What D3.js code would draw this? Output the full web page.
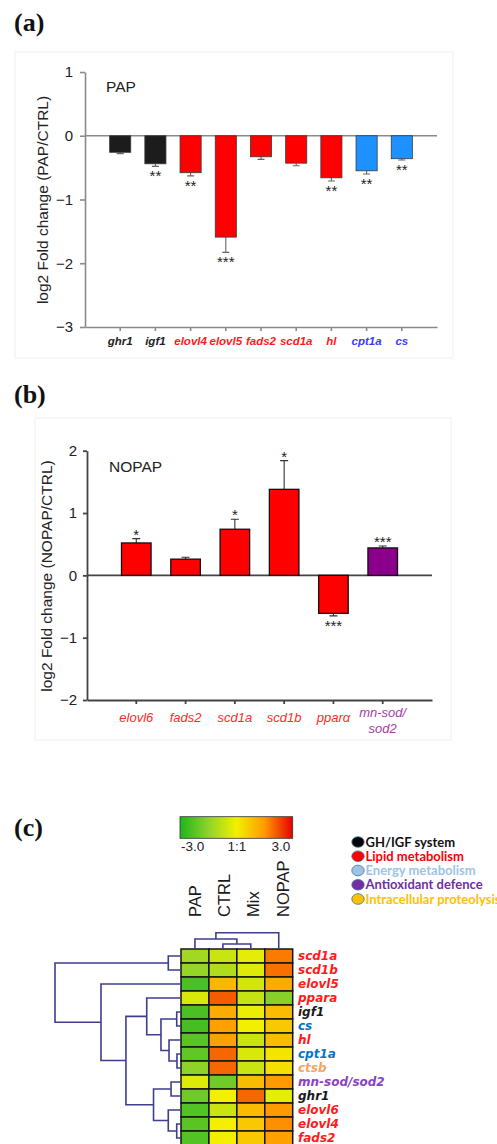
<!DOCTYPE html>
<html>
<head>
<meta charset="utf-8">
<script src="https://cdn.jsdelivr.net/npm/d3@7"></script>
<style>
  body { margin: 0; background: #fff; }
  svg { display: block; }
</style>
</head>
<body>
<div id="fig"></div>
<script>

// ----- panel (a): PAP vs CTRL -----
var genesA = ["ghr1", "igf1", "elovl4", "elovl5", "fads2", "scd1a", "hl", "cpt1a", "cs"];
var groupsA = ["gh", "gh", "lipid", "lipid", "lipid", "lipid", "lipid", "energy", "energy"];
var valuesA = [-0.26, -0.44, -0.58, -1.59, -0.33, -0.43, -0.66, -0.55, -0.36];
var errorsA = [0.02, 0.04, 0.05, 0.24, 0.04, 0.04, 0.05, 0.05, 0.02];
var signifA = ["", "**", "**", "***", "", "", "**", "**", "**"];
var ticksA = [1, 0, -1, -2, -3];

// ----- panel (b): NOPAP vs CTRL -----
var genesB = ["elovl6", "fads2", "scd1a", "scd1b", "ppar\u03b1", "mn-sod/sod2"];
var groupsB = ["lipid", "lipid", "lipid", "lipid", "lipid", "antiox"];
var valuesB = [0.52, 0.26, 0.74, 1.38, -0.61, 0.44];
var errorsB = [0.07, 0.03, 0.16, 0.46, 0.04, 0.03];
var signifB = ["*", "", "*", "*", "***", "***"];
var ticksB = [2, 1, 0, -1, -2];

// ----- panel (c): heatmap -----
var hmColumns = ["PAP", "CTRL", "Mix", "NOPAP"];
var hmRows = ["scd1a", "scd1b", "elovl5", "ppara", "igf1", "cs", "hl", "cpt1a", "ctsb",
              "mn-sod/sod2", "ghr1", "elovl6", "elovl4", "fads2"];
var hmRowGroups = ["lipid", "lipid", "lipid", "lipid", "gh", "energy", "lipid", "energy", "proteo",
                   "antiox", "gh", "lipid", "lipid", "lipid"];
var hmValues = [
    [-1.2, -0.6, -0.2, 1.8],
    [-1.4, -1.0, -0.3, 1.9],
    [-2.4, 1.0, -0.5, 1.2],
    [-0.4, 2.1, -0.7, -1.6],
    [-2.4, 1.2, -0.1, 0.9],
    [-2.5, 1.4, 0.0, 0.7],
    [-2.2, 1.4, -0.6, 0.9],
    [-2.1, 2.0, -0.4, 0.2],
    [-1.5, 2.0, -0.6, 0.3],
    [-0.3, -1.9, 0.9, 1.5],
    [-1.9, 0.0, 2.0, -0.2],
    [-2.3, -0.6, 0.9, 1.5],
    [-2.2, 0.0, 0.7, 1.6],
    [-2.3, 0.0, 0.7, 1.4]
];
// linkage: [left, right, height]; a number refers to an earlier merge
var rowLinkage = [
    ["scd1a", "scd1b", 0.101],      // 0
    ["igf1", "cs", 0.034],          // 1
    ["cpt1a", "ctsb", 0.032],       // 2
    ["hl", 2, 0.095],               // 3
    [1, 3, 0.159],                  // 4
    ["ppara", 4, 0.272],            // 5
    ["mn-sod/sod2", "ghr1", 0.079], // 6
    ["elovl4", "fads2", 0.034],     // 7
    ["elovl6", 7, 0.101],           // 8
    [6, 8, 0.218],                  // 9
    [5, 9, 0.437],                  // 10
    ["elovl5", 10, 0.635],          // 11
    [0, 11, 1.0]                    // 12
];
var colLinkage = [
    ["CTRL", "Mix", 0.31],
    ["PAP", 0, 0.61],
    [1, "NOPAP", 1.0]
];
var scaleStops = [-3, -1.5, 0, 1.5, 3];
var scaleTicks = [-3, 0, 3];
var scaleTickLabels = ["-3.0", "1:1", "3.0"];
var legendGroups = ["gh", "lipid", "energy", "antiox", "proteo"];
var legendLabels = ["GH/IGF system", "Lipid metabolism", "Energy metabolism", "Antioxidant defence", "Intracellular proteolysis"];

var SANS = "Arial, 'Liberation Sans', Helvetica, sans-serif";

var svg = d3.select("#fig").append("svg")
    .attr("width", 497)
    .attr("height", 1144);

// panel letters
[["(a)", 31], ["(b)", 403], ["(c)", 836]].forEach(function (p) {
    svg.append("text")
        .attr("x", 14)
        .attr("y", p[1])
        .attr("font-family", "'Liberation Serif', 'Times New Roman', serif")
        .attr("font-weight", "bold")
        .attr("font-size", 26)
        .attr("fill", "#111")
        .text(p[0]);
});

drawBarPanel({
    genes: genesA, groups: groupsA, values: valuesA, errors: errorsA, signif: signifA, ticks: ticksA,
    frame: [15, 52, 438, 306],
    xRange: [85, 437], yDomain: [-3, 1], yRange: [327, 72],
    axisColor: "#8a8a8a", axisWidth: 1.6, tickLen: 5, tickPad: 7,
    barColor: { gh: "#1c1c1c", lipid: "#ff0000", energy: "#1e90ff" },
    barStroke: "#3a3a3a", barStrokeWidth: 0.8,
    errColor: "#666", cap: 7,
    labelColor: { gh: "#222", lipid: "#ff1a1a", energy: "#3a3aff" },
    labelFont: { weight: "bold", size: 11.5 }, labelY: 345,
    title: "PAP", titleX: 106, titleY: 92,
    yLabel: "log2 Fold change (PAP/CTRL)", yLabelX: 43, yLabelY: 200
});

drawBarPanel({
    genes: genesB, groups: groupsB, values: valuesB, errors: errorsB, signif: signifB, ticks: ticksB,
    frame: [35, 418, 416, 322],
    xRange: [87, 432], yDomain: [-2, 2], yRange: [700, 450.7],
    axisColor: "#444", axisWidth: 1.8, tickLen: 4, tickPad: 6,
    barColor: { lipid: "#ff0000", antiox: "#8b008b" },
    barStroke: "#111", barStrokeWidth: 1.3,
    errColor: "#333", cap: 8,
    labelColor: { lipid: "#ff2a2a", antiox: "#a63ca6" },
    labelFont: { weight: "normal", size: 13 }, labelY: 722,
    title: "NOPAP", titleX: 109, titleY: 472,
    yLabel: "log2 Fold change (NOPAP/CTRL)", yLabelX: 47, yLabelY: 576
});

drawHeatmap();

function drawBarPanel(cfg) {
    var g = svg.append("g");

    g.append("rect")
        .attr("x", cfg.frame[0]).attr("y", cfg.frame[1])
        .attr("width", cfg.frame[2]).attr("height", cfg.frame[3])
        .attr("fill", "none")
        .attr("stroke", "#f0f0f0");

    var xScale = d3.scaleBand()
        .domain(cfg.genes)
        .range(cfg.xRange)
        .paddingInner(0.4)
        .paddingOuter(0.7);

    var yScale = d3.scaleLinear()
        .domain(cfg.yDomain)
        .range(cfg.yRange);

    // y axis
    var yAxis = d3.axisLeft(yScale)
        .tickValues(cfg.ticks)
        .tickSize(cfg.tickLen)
        .tickSizeOuter(0)
        .tickPadding(cfg.tickPad)
        .tickFormat(d3.format("d"));

    var yg = g.append("g")
        .attr("transform", "translate(" + cfg.xRange[0] + ",0)")
        .call(yAxis);
    yg.select(".domain").attr("stroke", cfg.axisColor).attr("stroke-width", cfg.axisWidth);
    yg.selectAll(".tick line").attr("stroke", cfg.axisColor).attr("stroke-width", cfg.axisWidth);
    yg.selectAll(".tick text")
        .attr("font-family", SANS)
        .attr("font-size", 15)
        .attr("fill", "#222");

    // x axis (ticks only, labels drawn below)
    var xAxis = d3.axisBottom(xScale)
        .tickSize(4)
        .tickSizeOuter(0)
        .tickFormat("");

    var xg = g.append("g")
        .attr("transform", "translate(0," + yScale(cfg.yDomain[0]) + ")")
        .call(xAxis);
    xg.select(".domain").attr("stroke", cfg.axisColor).attr("stroke-width", cfg.axisWidth);
    xg.selectAll(".tick line").attr("stroke", cfg.axisColor).attr("stroke-width", cfg.axisWidth);

    // zero line
    g.append("line")
        .attr("x1", cfg.xRange[0]).attr("x2", cfg.xRange[1])
        .attr("y1", yScale(0)).attr("y2", yScale(0))
        .attr("stroke", cfg.axisColor)
        .attr("stroke-width", cfg.axisWidth);

    var data = cfg.genes.map(function (gene, i) {
        return { gene: gene, value: cfg.values[i], err: cfg.errors[i], sig: cfg.signif[i], group: cfg.groups[i] };
    });
    var cx = function (d) { return xScale(d.gene) + xScale.bandwidth() / 2; };
    var tip = function (d) { return d.value >= 0 ? d.value + d.err : d.value - d.err; };

    // error bars
    g.selectAll(".err")
        .data(data)
        .enter()
        .append("path")
        .attr("class", "err")
        .attr("fill", "none")
        .attr("stroke", cfg.errColor)
        .attr("stroke-width", 1.1)
        .attr("d", function (d) {
            var x = cx(d), y1 = yScale(d.value), y2 = yScale(tip(d));
            return "M" + x + "," + y1 + "V" + y2 + "M" + (x - cfg.cap / 2) + "," + y2 + "H" + (x + cfg.cap / 2);
        });

    // bars
    g.selectAll(".bar")
        .data(data)
        .enter()
        .append("rect")
        .attr("class", "bar")
        .attr("x", function (d) { return xScale(d.gene); })
        .attr("width", xScale.bandwidth())
        .attr("y", function (d) { return yScale(Math.max(0, d.value)); })
        .attr("height", function (d) { return Math.abs(yScale(d.value) - yScale(0)); })
        .attr("fill", function (d) { return cfg.barColor[d.group]; })
        .attr("stroke", cfg.barStroke)
        .attr("stroke-width", cfg.barStrokeWidth);

    // significance stars
    g.selectAll(".sig")
        .data(data)
        .enter()
        .append("text")
        .attr("class", "sig")
        .attr("x", cx)
        .attr("y", function (d) { return d.value >= 0 ? yScale(tip(d)) + 1 : yScale(tip(d)) + 15; })
        .attr("text-anchor", "middle")
        .attr("font-family", SANS)
        .attr("font-size", 15)
        .attr("fill", "#222")
        .text(function (d) { return d.sig; });

    // category labels (two lines where there is a slash)
    var labels = g.selectAll(".lab")
        .data(data)
        .enter()
        .append("text")
        .attr("class", "lab")
        .attr("text-anchor", "middle")
        .attr("font-family", SANS)
        .attr("font-style", "italic")
        .attr("font-weight", cfg.labelFont.weight)
        .attr("font-size", cfg.labelFont.size)
        .attr("fill", function (d) { return cfg.labelColor[d.group]; });

    labels.each(function (d) {
        var t = d3.select(this);
        var parts = d.gene.indexOf("/") > 0 ? [d.gene.split("/")[0] + "/", d.gene.split("/")[1]] : [d.gene];
        if (parts.length === 1) {
            t.append("tspan").attr("x", cx(d)).attr("y", cfg.labelY).text(parts[0]);
        } else {
            t.append("tspan").attr("x", cx(d)).attr("y", cfg.labelY - 5).text(parts[0]);
            t.append("tspan").attr("x", cx(d)).attr("y", cfg.labelY + 11).text(parts[1]);
        }
    });

    // inner title
    g.append("text")
        .attr("x", cfg.titleX)
        .attr("y", cfg.titleY)
        .attr("font-family", SANS)
        .attr("font-size", 15.5)
        .attr("fill", "#222")
        .text(cfg.title);

    // y label
    g.append("text")
        .attr("transform", "translate(" + cfg.yLabelX + "," + cfg.yLabelY + ") rotate(-90)")
        .attr("text-anchor", "middle")
        .attr("dy", "0.35em")
        .attr("font-family", SANS)
        .attr("font-size", 15.5)
        .attr("fill", "#222")
        .text(cfg.yLabel);
}

function buildTree(linkage, leafPos) {
    var nodes = [];
    var resolve = function (ref) {
        if (typeof ref === "number") return nodes[ref];
        return { pos: leafPos(ref), h: 0 };
    };
    linkage.forEach(function (m) {
        var a = resolve(m[0]), b = resolve(m[1]);
        nodes.push({ a: a, b: b, h: m[2], pos: (a.pos + b.pos) / 2 });
    });
    return nodes;
}

function drawHeatmap() {
    var g = svg.append("g");

    var heatColor = d3.scaleLinear()
        .domain(scaleStops)
        .range(["#1fb41f", "#8fd22a", "#f2f000", "#ff9a00", "#e60000"]);

    var xScale = d3.scaleBand().domain(hmColumns).range([181, 292.7]);
    var yScale = d3.scaleBand().domain(hmRows).range([949, 1145]);

    // cells
    var cells = [];
    hmRows.forEach(function (r, i) {
        hmColumns.forEach(function (c, j) {
            cells.push({ row: r, col: c, value: hmValues[i][j] });
        });
    });

    g.selectAll(".cell")
        .data(cells)
        .enter()
        .append("rect")
        .attr("class", "cell")
        .attr("x", function (d) { return xScale(d.col); })
        .attr("y", function (d) { return yScale(d.row); })
        .attr("width", xScale.bandwidth())
        .attr("height", yScale.bandwidth())
        .attr("fill", function (d) { return heatColor(d.value); })
        .attr("stroke", "#141414")
        .attr("stroke-width", 1.5);

    // row labels
    var rowColor = { lipid: "#ff1a1a", gh: "#1a1a1a", energy: "#0a72c4", antiox: "#8d3fc2", proteo: "#f7a466" };
    g.selectAll(".rowlab")
        .data(hmRows)
        .enter()
        .append("text")
        .attr("class", "rowlab")
        .attr("x", 298)
        .attr("y", function (d) { return yScale(d) + yScale.bandwidth() / 2; })
        .attr("dy", "0.35em")
        .attr("font-family", "'DejaVu Sans', Verdana, sans-serif")
        .attr("font-weight", "bold")
        .attr("font-style", "italic")
        .attr("font-size", 12)
        .attr("fill", function (d, i) { return rowColor[hmRowGroups[i]]; })
        .text(function (d) { return d; });

    // column labels
    g.selectAll(".collab")
        .data(hmColumns)
        .enter()
        .append("text")
        .attr("class", "collab")
        .attr("transform", function (d, i) {
            return "translate(" + (xScale(d) + xScale.bandwidth() / 2 + i * 1.3) + ",917) rotate(-90)";
        })
        .attr("dy", "0.36em")
        .attr("font-family", SANS)
        .attr("font-size", 16.5)
        .attr("fill", "#1a1a1a")
        .text(function (d) { return d; });

    // row dendrogram
    var rowH = d3.scaleLinear().domain([0, 1]).range([181, 55]);
    var rowNodes = buildTree(rowLinkage, function (name) { return yScale(name) + yScale.bandwidth() / 2; });
    g.selectAll(".rowdend")
        .data(rowNodes)
        .enter()
        .append("path")
        .attr("class", "rowdend")
        .attr("fill", "none")
        .attr("stroke", "#3e3e8e")
        .attr("stroke-width", 1.6)
        .attr("d", function (n) {
            return "M" + rowH(n.a.h) + "," + n.a.pos + "H" + rowH(n.h) + "V" + n.b.pos + "H" + rowH(n.b.h);
        });

    // column dendrogram
    var colH = d3.scaleLinear().domain([0, 1]).range([949, 932.7]);
    var colNodes = buildTree(colLinkage, function (name) { return xScale(name) + xScale.bandwidth() / 2; });
    g.selectAll(".coldend")
        .data(colNodes)
        .enter()
        .append("path")
        .attr("class", "coldend")
        .attr("fill", "none")
        .attr("stroke", "#3e3e8e")
        .attr("stroke-width", 1.6)
        .attr("d", function (n) {
            return "M" + n.a.pos + "," + colH(n.a.h) + "V" + colH(n.h) + "H" + n.b.pos + "V" + colH(n.b.h);
        });

    // colour key
    var grad = svg.append("defs").append("linearGradient").attr("id", "hmGrad");
    grad.selectAll("stop")
        .data(scaleStops)
        .enter()
        .append("stop")
        .attr("offset", function (d) { return ((d + 3) / 6 * 100) + "%"; })
        .attr("stop-color", function (d) { return heatColor(d); });

    g.append("rect")
        .attr("x", 180).attr("y", 816.7)
        .attr("width", 112.7).attr("height", 21.6)
        .attr("fill", "url(#hmGrad)")
        .attr("stroke", "#333")
        .attr("stroke-width", 0.8);

    var keyScale = d3.scaleLinear().domain([-3, 3]).range([192.7, 281]);
    g.selectAll(".keylab")
        .data(scaleTicks)
        .enter()
        .append("text")
        .attr("class", "keylab")
        .attr("x", function (d) { return keyScale(d); })
        .attr("y", 850.5)
        .attr("text-anchor", "middle")
        .attr("font-family", SANS)
        .attr("font-size", 13.5)
        .attr("fill", "#222")
        .text(function (d, i) { return scaleTickLabels[i]; });

    // legend
    var legFill = { gh: "#050505", lipid: "#ff0000", energy: "#9dc3e6", antiox: "#7030a0", proteo: "#ffc000" };
    var legText = { gh: "#111", lipid: "#ff0000", energy: "#9dc3e6", antiox: "#7030a0", proteo: "#ffc000" };
    var legY = d3.scalePoint().domain(legendGroups).range([842, 899]);

    var leg = g.selectAll(".leg")
        .data(legendGroups)
        .enter()
        .append("g")
        .attr("class", "leg")
        .attr("transform", function (d) { return "translate(0," + legY(d) + ")"; });

    leg.append("ellipse")
        .attr("cx", 358).attr("cy", 0)
        .attr("rx", 6.2).attr("ry", 5.3)
        .attr("fill", function (d) { return legFill[d]; })
        .attr("stroke", "#41719c")
        .attr("stroke-width", 0.8);

    leg.append("text")
        .attr("x", 365.5)
        .attr("y", 4.5)
        .attr("font-family", "Lato, 'Open Sans', sans-serif")
        .attr("font-weight", "bold")
        .attr("font-size", 13)
        .attr("fill", function (d) { return legText[d]; })
        .text(function (d, i) { return legendLabels[i]; });
}
</script>
</body>
</html>
